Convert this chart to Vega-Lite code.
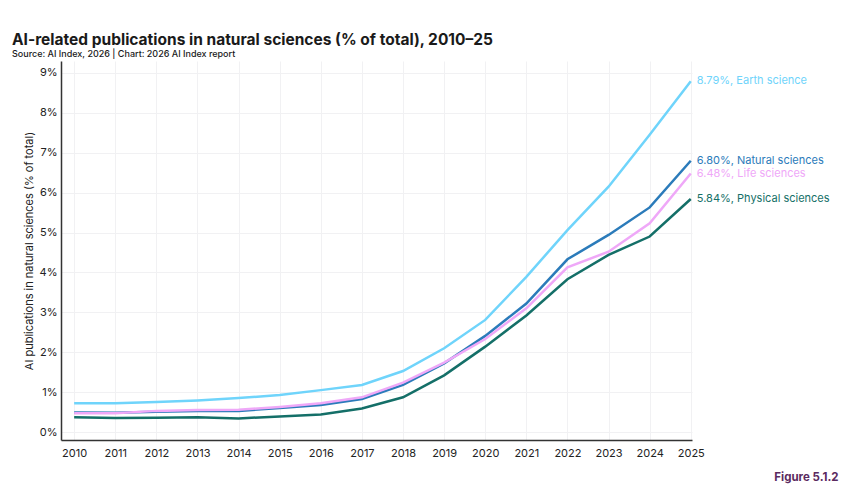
{
  "$schema": "https://vega.github.io/schema/vega-lite/v6.json",
  "autosize": {"type": "none"},
  "width": 631,
  "height": 379,
  "padding": {"left": 61, "top": 61, "right": 158, "bottom": 60},
  "background": "#ffffff",
  "title": {
    "text": "AI-related publications in natural sciences (% of total), 2010–25",
    "subtitle": "Source: AI Index, 2026 | Chart: 2026 AI Index report",
    "anchor": "start",
    "frame": "group",
    "dx": -49,
    "offset": 2,
    "font": "Inter",
    "fontSize": 15.5,
    "fontWeight": "bold",
    "color": "#1a1a1a",
    "subtitleFont": "Inter",
    "subtitleFontSize": 9,
    "subtitleFontWeight": 500,
    "subtitleColor": "#1a1a1a",
    "subtitlePadding": 2
  },
  "config": {
    "view": {"stroke": null},
    "font": "Inter",
    "axis": {
      "labelFont": "Inter",
      "titleFont": "Inter",
      "labelColor": "#222222",
      "titleColor": "#222222",
      "labelFontSize": 11,
      "titleFontSize": 11,
      "titleFontWeight": "normal",
      "gridColor": "#f1f1f3",
      "gridWidth": 1,
      "domainColor": "#333333",
      "domainWidth": 1.5,
      "ticks": false
    }
  },
  "data": {
    "values": [
      {"year": 2010, "series": "Earth science", "value": 0.72},
      {"year": 2011, "series": "Earth science", "value": 0.72},
      {"year": 2012, "series": "Earth science", "value": 0.75},
      {"year": 2013, "series": "Earth science", "value": 0.79},
      {"year": 2014, "series": "Earth science", "value": 0.85},
      {"year": 2015, "series": "Earth science", "value": 0.93},
      {"year": 2016, "series": "Earth science", "value": 1.05},
      {"year": 2017, "series": "Earth science", "value": 1.18},
      {"year": 2018, "series": "Earth science", "value": 1.53},
      {"year": 2019, "series": "Earth science", "value": 2.10},
      {"year": 2020, "series": "Earth science", "value": 2.81},
      {"year": 2021, "series": "Earth science", "value": 3.89},
      {"year": 2022, "series": "Earth science", "value": 5.06},
      {"year": 2023, "series": "Earth science", "value": 6.15},
      {"year": 2024, "series": "Earth science", "value": 7.45},
      {"year": 2025, "series": "Earth science", "value": 8.79},
      {"year": 2010, "series": "Natural sciences", "value": 0.49},
      {"year": 2011, "series": "Natural sciences", "value": 0.48},
      {"year": 2012, "series": "Natural sciences", "value": 0.51},
      {"year": 2013, "series": "Natural sciences", "value": 0.53},
      {"year": 2014, "series": "Natural sciences", "value": 0.53},
      {"year": 2015, "series": "Natural sciences", "value": 0.60},
      {"year": 2016, "series": "Natural sciences", "value": 0.68},
      {"year": 2017, "series": "Natural sciences", "value": 0.83},
      {"year": 2018, "series": "Natural sciences", "value": 1.18},
      {"year": 2019, "series": "Natural sciences", "value": 1.72},
      {"year": 2020, "series": "Natural sciences", "value": 2.41},
      {"year": 2021, "series": "Natural sciences", "value": 3.22},
      {"year": 2022, "series": "Natural sciences", "value": 4.33},
      {"year": 2023, "series": "Natural sciences", "value": 4.94},
      {"year": 2024, "series": "Natural sciences", "value": 5.63},
      {"year": 2025, "series": "Natural sciences", "value": 6.80},
      {"year": 2010, "series": "Life sciences", "value": 0.47},
      {"year": 2011, "series": "Life sciences", "value": 0.47},
      {"year": 2012, "series": "Life sciences", "value": 0.53},
      {"year": 2013, "series": "Life sciences", "value": 0.55},
      {"year": 2014, "series": "Life sciences", "value": 0.56},
      {"year": 2015, "series": "Life sciences", "value": 0.63},
      {"year": 2016, "series": "Life sciences", "value": 0.72},
      {"year": 2017, "series": "Life sciences", "value": 0.87},
      {"year": 2018, "series": "Life sciences", "value": 1.24},
      {"year": 2019, "series": "Life sciences", "value": 1.74},
      {"year": 2020, "series": "Life sciences", "value": 2.33},
      {"year": 2021, "series": "Life sciences", "value": 3.10},
      {"year": 2022, "series": "Life sciences", "value": 4.13},
      {"year": 2023, "series": "Life sciences", "value": 4.52},
      {"year": 2024, "series": "Life sciences", "value": 5.23},
      {"year": 2025, "series": "Life sciences", "value": 6.48},
      {"year": 2010, "series": "Physical sciences", "value": 0.37},
      {"year": 2011, "series": "Physical sciences", "value": 0.35},
      {"year": 2012, "series": "Physical sciences", "value": 0.36},
      {"year": 2013, "series": "Physical sciences", "value": 0.37},
      {"year": 2014, "series": "Physical sciences", "value": 0.34},
      {"year": 2015, "series": "Physical sciences", "value": 0.39},
      {"year": 2016, "series": "Physical sciences", "value": 0.44},
      {"year": 2017, "series": "Physical sciences", "value": 0.59},
      {"year": 2018, "series": "Physical sciences", "value": 0.87},
      {"year": 2019, "series": "Physical sciences", "value": 1.42},
      {"year": 2020, "series": "Physical sciences", "value": 2.14},
      {"year": 2021, "series": "Physical sciences", "value": 2.92},
      {"year": 2022, "series": "Physical sciences", "value": 3.83},
      {"year": 2023, "series": "Physical sciences", "value": 4.44},
      {"year": 2024, "series": "Physical sciences", "value": 4.90},
      {"year": 2025, "series": "Physical sciences", "value": 5.84}
    ]
  },
  "encoding": {
    "x": {
      "field": "year",
      "type": "quantitative",
      "scale": {"domain": [2009.68, 2025.03], "nice": false, "zero": false},
      "axis": {
        "values": [2010, 2011, 2012, 2013, 2014, 2015, 2016, 2017, 2018, 2019, 2020, 2021, 2022, 2023, 2024, 2025],
        "format": "d",
        "labelPadding": 7,
        "labelFlush": false,
        "title": "Figure 5.1.2",
        "titleAnchor": "end",
        "titleAlign": "right",
        "titleX": 777,
        "titleY": 31,
        "titleFontSize": 11.5,
        "titleFontWeight": "bold",
        "titleColor": "#5b2a5f"
      }
    },
    "y": {
      "field": "value",
      "type": "quantitative",
      "scale": {"domain": [-0.2, 9.3], "nice": false, "zero": false},
      "axis": {
        "values": [0, 1, 2, 3, 4, 5, 6, 7, 8, 9],
        "labelExpr": "datum.value + '%'",
        "labelPadding": 4,
        "title": "AI publications in natural sciences (% of total)",
        "titlePadding": 5
      }
    },
    "color": {
      "field": "series",
      "type": "nominal",
      "scale": {
        "domain": ["Earth science", "Natural sciences", "Life sciences", "Physical sciences"],
        "range": ["#6fd4fb", "#2b7bba", "#efa8f8", "#146f68"]
      },
      "legend": null
    }
  },
  "layer": [
    {
      "mark": {"type": "line", "strokeWidth": 2.5, "clip": false},
      "encoding": {
        "order": {"field": "year", "type": "quantitative"},
        "detail": {"field": "series"}
      }
    },
    {
      "transform": [
        {"filter": "datum.year === 2025"},
        {"calculate": "format(datum.value, '.2f') + '%, ' + datum.series", "as": "label"}
      ],
      "mark": {"type": "text", "align": "left", "baseline": "middle", "dx": 6, "fontSize": 11, "font": "Inter"},
      "encoding": {"text": {"field": "label"}}
    }
  ]
}
